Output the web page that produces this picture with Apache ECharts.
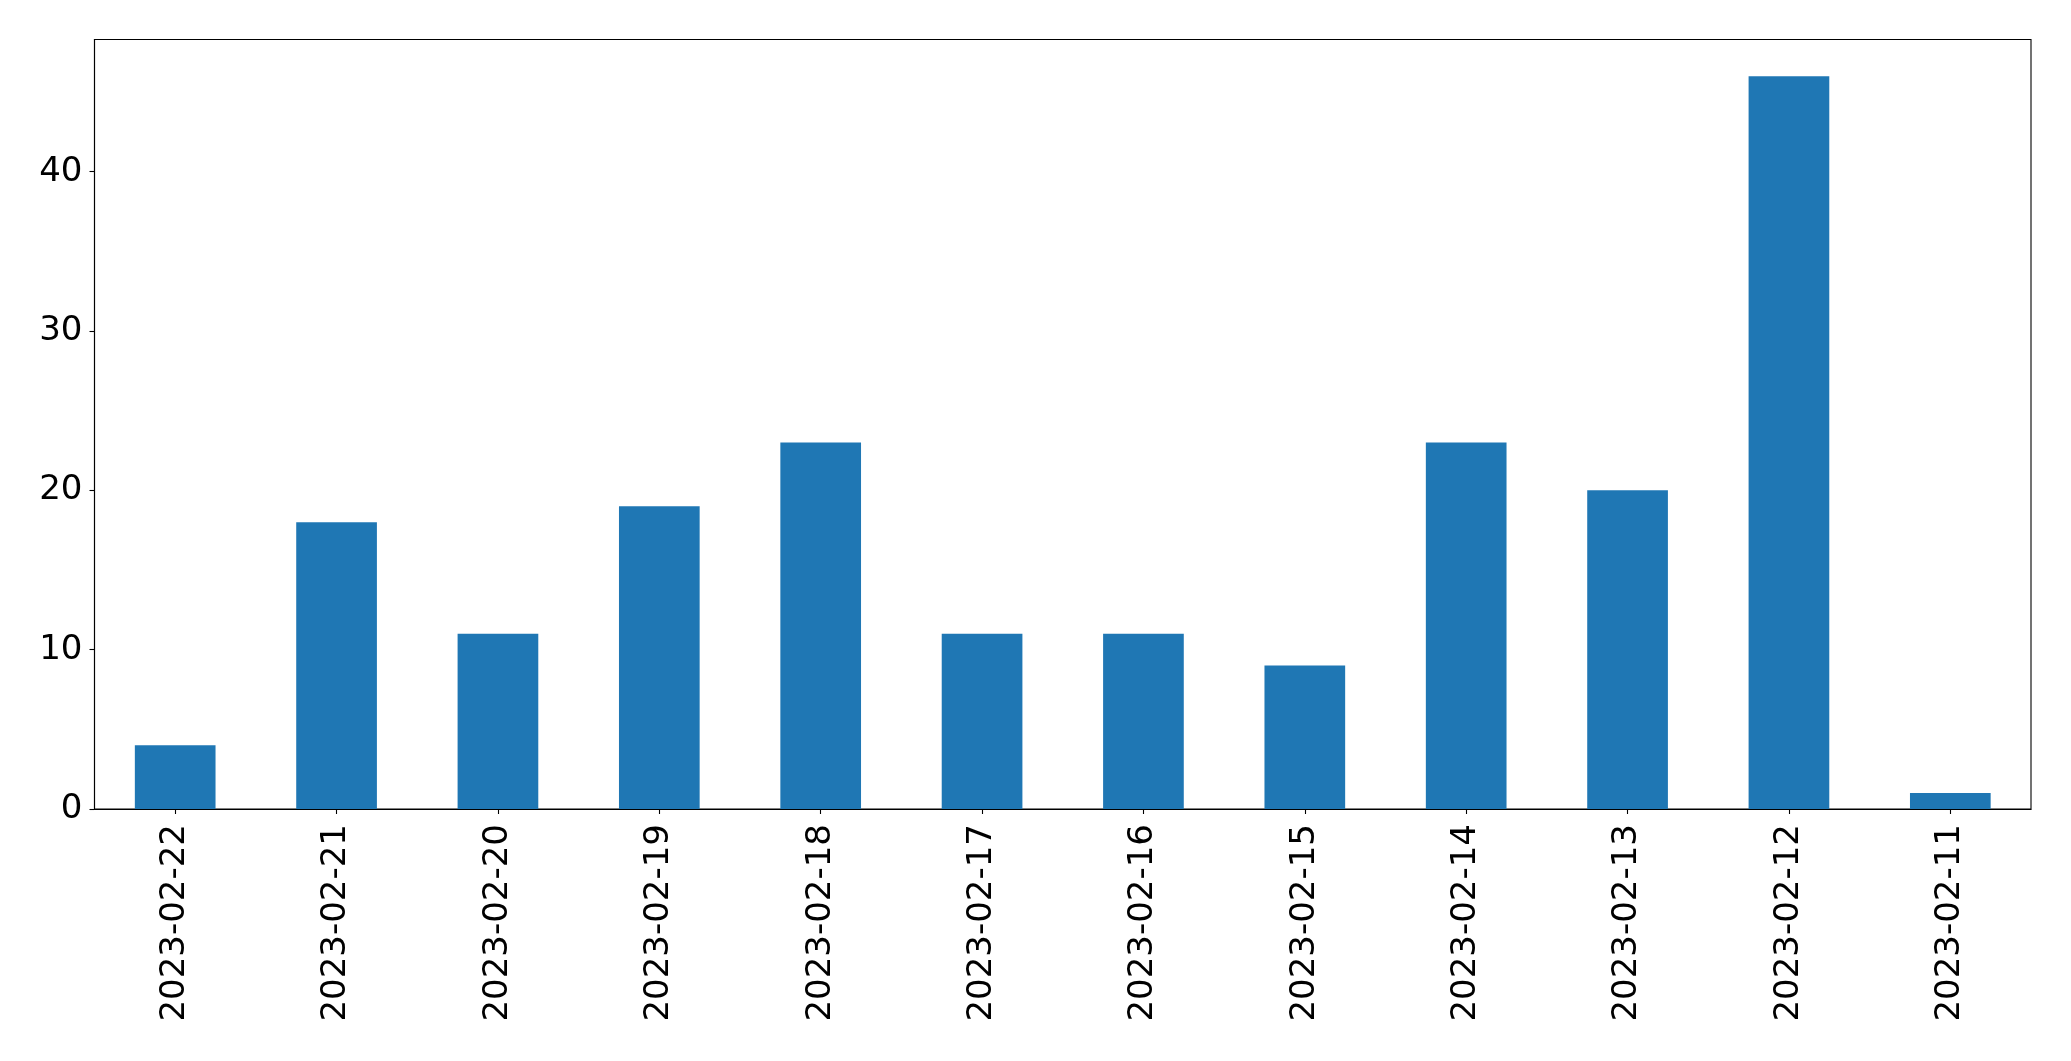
<!DOCTYPE html>
<html>
<head>
<meta charset="utf-8">
<script src="https://cdn.jsdelivr.net/npm/echarts@6/dist/echarts.min.js"></script>
<style>
html,body{margin:0;padding:0;background:#fff;}
#chart{width:2071px;height:1061px;}
</style>
</head>
<body>
<div id="chart"></div>
<script>
const categories = ['2023-02-22','2023-02-21','2023-02-20','2023-02-19','2023-02-18','2023-02-17','2023-02-16','2023-02-15','2023-02-14','2023-02-13','2023-02-12','2023-02-11'];
const values = [4, 18, 11, 19, 23, 11, 11, 9, 23, 20, 46, 1];
const yTicks = [0, 10, 20, 30, 40];
const yMax = 48.3;

const font = 'DejaVu Sans';
const chart = echarts.init(document.getElementById('chart'), null, {renderer: 'canvas'});
chart.setOption({
  animation: false,
  backgroundColor: '#ffffff',
  grid: {
    left: 94.5, right: 40, top: 39.5, bottom: 252,
    show: true, borderColor: '#000', borderWidth: 1.1, backgroundColor: 'transparent'
  },
  xAxis: {
    type: 'category',
    data: categories,
    boundaryGap: true,
    axisLine: {show: true, lineStyle: {color: '#000', width: 1.1}},
    axisTick: {show: true, alignWithLabel: true, length: 5, lineStyle: {color: '#000', width: 1.1}},
    axisLabel: {rotate: 90, margin: 15, fontFamily: font, fontSize: 34, color: '#000', interval: 0},
    splitLine: {show: false}
  },
  yAxis: {
    type: 'value',
    min: 0, max: yMax, interval: 10,
    axisLine: {show: true, lineStyle: {color: '#000', width: 1.1}},
    axisTick: {show: true, length: 5, customValues: yTicks, lineStyle: {color: '#000', width: 1.1}},
    axisLabel: {margin: 12, fontFamily: font, fontSize: 34, color: '#000', customValues: yTicks},
    splitLine: {show: false}
  },
  series: [{
    type: 'bar',
    data: values,
    barWidth: '50%',
    itemStyle: {color: '#1f77b4'}
  }]
});
</script>
</body>
</html>
